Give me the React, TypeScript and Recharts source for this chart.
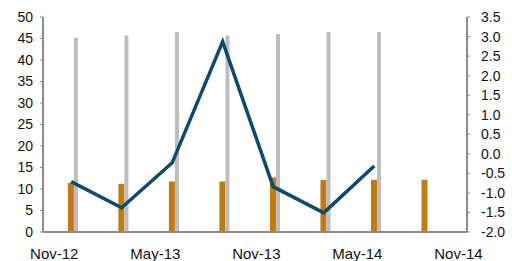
import React from 'react';
import { ComposedChart, Bar, Line, XAxis, YAxis } from 'recharts';

// quarter positions, in months after Nov-12
const months = [1, 4, 7, 10, 13, 16, 19, 22];
const orangeVals = [11.4, 11.2, 11.75, 11.75, 12.7, 12.15, 12.15, 12.15];
const grayVals = [45.2, 45.7, 46.5, 45.7, 46.05, 46.5, 46.5, null];
const lineVals = [-0.71, -1.38, -0.23, 2.87, -0.84, -1.51, -0.31, null];

const xTicks = [0, 6, 12, 18, 24];
const xTickLabels = ['Nov-12', 'May-13', 'Nov-13', 'May-14', 'Nov-14'];
const leftTicks = [0, 5, 10, 15, 20, 25, 30, 35, 40, 45, 50];
const rightTicks = [-2, -1.5, -1, -0.5, 0, 0.5, 1, 1.5, 2, 2.5, 3, 3.5];

const data = months.map((m, i) => ({
    m,
    orange: orangeVals[i],
    gray: grayVals[i],
    line: lineVals[i],
}));

const AXIS = '#8c8c8c';
const FONT = '"Liberation Sans", Arial, sans-serif';
const tickStyle = { fontSize: 14, fill: '#111', fontFamily: FONT };

// gray bars sit a few px to the right of the orange ones
const DOMAIN: [number, number] = [-0.67, 24.51];
const SHIFT = 0.3;

export default function App() {
    return (
        <div style={{ position: 'absolute', left: 0, top: 0, width: 512, height: 261, background: '#fff' }}>
            <ComposedChart
                width={512}
                height={261}
                data={data}
                margin={{ top: 17, right: 0, bottom: 0, left: 0 }}
            >
                <XAxis
                    xAxisId="main"
                    type="number"
                    dataKey="m"
                    domain={DOMAIN}
                    allowDataOverflow
                    ticks={xTicks}
                    tickFormatter={(v: number) => xTickLabels[xTicks.indexOf(v)] ?? ''}
                    tick={{ ...tickStyle, fontSize: 15 }}
                    tickLine={false}
                    tickSize={6}
                    tickMargin={10}
                    axisLine={{ stroke: AXIS, strokeWidth: 2 }}
                    height={29}
                    interval={0}
                />
                <XAxis
                    xAxisId="shift"
                    type="number"
                    dataKey="m"
                    domain={[DOMAIN[0] - SHIFT, DOMAIN[1] - SHIFT]}
                    allowDataOverflow
                    hide
                />
                <YAxis
                    yAxisId="l"
                    orientation="left"
                    domain={[0, 50]}
                    ticks={leftTicks}
                    interval={0}
                    width={43}
                    tick={tickStyle}
                    tickSize={3}
                    tickMargin={7}
                    tickLine={{ stroke: AXIS }}
                    axisLine={{ stroke: AXIS, strokeWidth: 2 }}
                />
                <YAxis
                    yAxisId="r"
                    orientation="right"
                    domain={[-2, 3.5]}
                    ticks={rightTicks}
                    interval={0}
                    width={45}
                    tick={{ ...tickStyle, textAnchor: 'start' }}
                    tickFormatter={(v: number) => v.toFixed(1)}
                    tickSize={3}
                    tickMargin={11}
                    tickLine={{ stroke: AXIS }}
                    axisLine={{ stroke: AXIS, strokeWidth: 2 }}
                />
                <Bar xAxisId="main" yAxisId="l" dataKey="orange" fill="#C27C0E" barSize={6} isAnimationActive={false} />
                <Bar xAxisId="shift" yAxisId="l" dataKey="gray" fill="#BDBDC0" barSize={4} isAnimationActive={false} />
                <Line
                    xAxisId="main"
                    yAxisId="r"
                    dataKey="line"
                    type="linear"
                    stroke="#0C4A6E"
                    strokeWidth={3.5}
                    dot={false}
                    connectNulls={false}
                    isAnimationActive={false}
                />
            </ComposedChart>
        </div>
    );
}
